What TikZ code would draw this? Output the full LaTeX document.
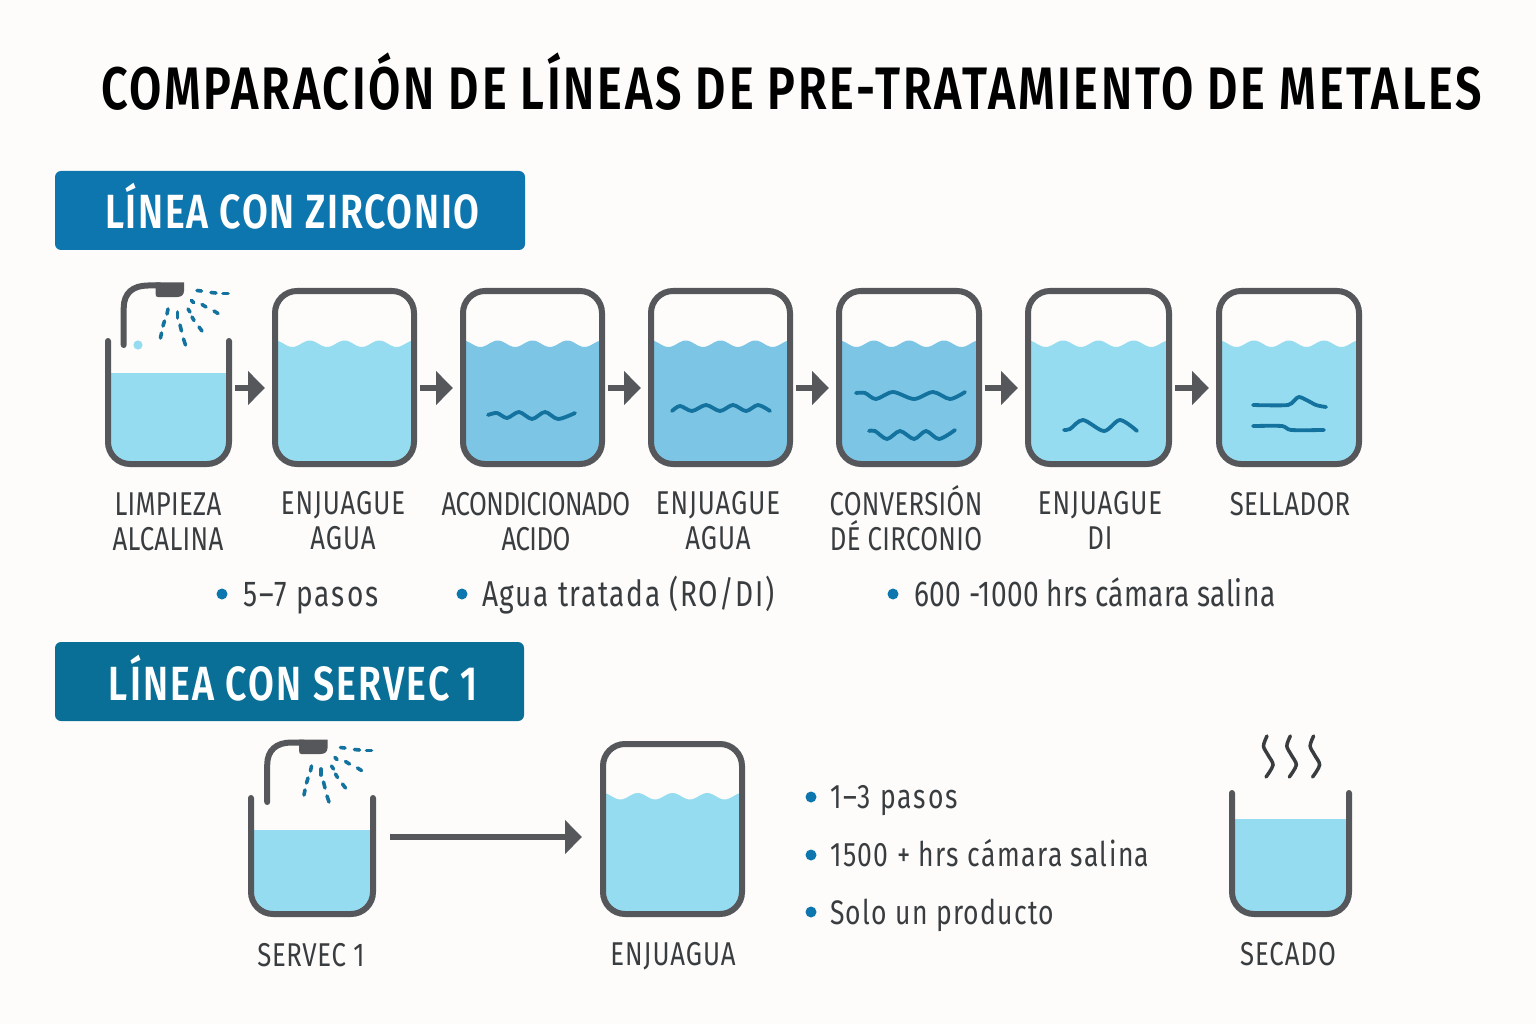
\documentclass[tikz,border=0pt]{standalone}
\usepackage{fontspec}
\setmainfont[FakeStretch=0.78,BoldFont={Fira Sans SemiBold}]{Fira Sans}
\usetikzlibrary{positioning}
\usetikzlibrary{arrows.meta}
\definecolor{paper}{HTML}{FDFCFB}
\definecolor{steel}{HTML}{55575A}
\definecolor{lightwater}{HTML}{96DCF0}
\definecolor{midwater}{HTML}{7CC5E5}
\definecolor{deepblue}{HTML}{14729E}
\definecolor{bannerA}{HTML}{0E76AE}
\definecolor{bannerB}{HTML}{0A6F96}
\definecolor{inktext}{HTML}{3A3D40}
\tikzset{tankwall/.style={draw=steel,line width=6pt,rounded corners=22pt,inner sep=0pt}}
\tikzset{opentank/.style={inner sep=0pt,outer sep=0pt}}
\tikzset{openwall/.style={draw=steel,line width=6pt,line cap=round,rounded corners=22pt}}
\tikzset{flow/.style={draw=steel,line width=6pt,-{Triangle[length=17pt,width=33pt]},shorten <=2.5pt,shorten >=7pt}}
\tikzset{squig/.style={draw=deepblue,line width=3.8pt,line cap=round,smooth}}
\tikzset{drop/.style={draw=deepblue,line width=3.6pt,line cap=round}}
\tikzset{banner/.style={rounded corners=6pt,inner sep=0pt,text height=37pt,text depth=0pt,text=white,font=\fontsize{48}{52}\selectfont\bfseries\addfontfeatures{LetterSpace=#1}}}
\tikzset{steplabel/.style={anchor=south,align=center,inner sep=0pt,text=inktext,font=\fontsize{33}{35}\selectfont\addfontfeatures{LetterSpace=1}}}
\tikzset{widelabel/.style={steplabel,font=\fontsize{33}{35}\selectfont\addfontfeatures{LetterSpace=3}}}
\tikzset{bullet/.style={circle,fill=bannerA,inner sep=0pt,minimum size=11pt}}
\tikzset{item/.style={anchor=base west,inner sep=0pt,text=inktext,font=\fontsize{36}{40}\selectfont\addfontfeatures{LetterSpace=#1}}}
\tikzset{smallitem/.style={anchor=base west,inner sep=0pt,text=inktext,font=\fontsize{34}{38}\selectfont\addfontfeatures{LetterSpace=#1}}}
% water surface plus walls, closed tank: left right top bottom waterline colour name
\newcommand{\closedtank}[7]{
    \fill[#6] plot[domain=#1+3:#2-3,samples=80] (\x,{#5+3.25-3.25*cos(1440/(#2-#1-6)*(\x-#1-3))})
        [rounded corners=20pt] -- (#2-3,#4-3) -- (#1+3,#4-3) -- (#1+3,#5) [sharp corners] -- cycle;
    \node[tankwall,minimum width=#2-#1-6,minimum height=#4-#3-6] (#7) at ({(#1+#2)/2},{(#3+#4)/2}) {};
}
% open tank: left right top bottom waterline name
\newcommand{\bucket}[6]{
    \fill[lightwater,rounded corners=20pt] (#1+3,#5) [sharp corners] -- (#2-3,#5) [rounded corners=20pt] -- (#2-3,#4-3) -- (#1+3,#4-3) [sharp corners] -- cycle;
    \node[opentank,minimum width=#2-#1,minimum height=#4-#3] (#6) at ({(#1+#2)/2},{(#3+#4)/2}) {};
    \draw[openwall] (#1+3,#3+3) -- (#1+3,#4-3) -- (#2-3,#4-3) -- (#2-3,#3+3);
}
% spray head, drawn in the position of the first tank and moved by dx dy
\newcommand{\sprayhead}[2]{
    \begin{scope}[shift={(#1,#2)}]
        \draw[draw=steel,line width=6pt,line cap=round] (123.7,345) -- (123.7,308) .. controls (123.7,293) and (133,285.5) .. (148,285.5) -- (160,285.5);
        \fill[steel] (155.7,282.5) -- (184,282.5) -- (184,291) .. controls (184,295) and (181,297) .. (177,297) -- (158,297) .. controls (156,297) and (155.7,296) .. (155.7,294) -- cycle;
        \draw[drop] (197,290.5) -- (201.5,291);
        \draw[drop] (211,292.5) -- (216,293);
        \draw[drop] (223,293.5) -- (228,293.5);
        \draw[drop] (191.5,300.5) -- (193.5,302.5);
        \draw[drop] (202,304.5) -- (206,307);
        \draw[drop] (214,311) -- (218,313.5);
        \draw[drop] (188,309) -- (190,312);
        \draw[drop] (192,317) -- (194,320.5);
        \draw[drop] (199,327) -- (202,331);
        \draw[drop] (168,309) -- (167,314);
        \draw[drop] (164.5,321) -- (163,326);
        \draw[drop] (161.5,333) -- (160.5,338);
        \draw[drop] (177.5,312) -- (177.5,318);
        \draw[drop] (180,325) -- (181.5,331);
        \draw[drop] (183.5,339) -- (185.5,345);
    \end{scope}
}
\begin{document}
\begin{tikzpicture}[x=1pt,y=-1pt]
    \fill[paper] (0,0) rectangle (1536,1024);
    \useasboundingbox (0,0) rectangle (1536,1024);
    \node[anchor=base west,inner sep=0pt,text=black,font=\fontsize{60}{64}\selectfont\bfseries\addfontfeatures{LetterSpace=4.5}] (title) at (101,110) {COMPARACIÓN DE LÍNEAS DE PRE-TRATAMIENTO DE METALES};
    \node[banner=3.6,fill=bannerA,minimum width=470pt,minimum height=79pt] (zirconio) at (290,210.5) {\hspace*{5pt}LÍNEA CON ZIRCONIO};
    \node[banner=4.6,fill=bannerB,minimum width=469pt,minimum height=79pt] (servec) at (289.5,681.5) {\hspace*{8pt}LÍNEA CON SERVEC 1};

    % first line
    \coordinate (rowa) at (0,388);
    \bucket{105}{232}{338}{467}{373}{t1}
    \sprayhead{0}{0}
    \fill[lightwater] (138,345) circle (4.6pt);
    \closedtank{272}{417}{288}{467}{340.5}{lightwater}{t2}
    \closedtank{460}{605}{288}{467}{340.5}{midwater}{t3}
    \closedtank{648}{793}{288}{467}{340.5}{midwater}{t4}
    \closedtank{836}{982}{288}{467}{340.5}{midwater}{t5}
    \closedtank{1025}{1172}{288}{467}{340.5}{lightwater}{t6}
    \closedtank{1216}{1362}{288}{467}{340.5}{lightwater}{t7}
    \foreach \a/\b in {t1/t2,t2/t3,t3/t4,t4/t5,t5/t6,t6/t7}
        \draw[flow] (\a.east |- rowa) -- (\b.west |- rowa);
    \draw[squig] plot[smooth] coordinates {(488,415) (497,413) (507,418) (519,412) (532,419) (545,412) (558,419) (575,413)};
    \draw[squig] plot[smooth] coordinates {(672,411) (680,406) (692,411) (706,405) (720,411) (733,405) (746,411) (758,405) (770,411)};
    \draw[squig] plot[smooth] coordinates {(856,393) (865,393) (876,399) (893,392) (914,399) (933,392) (950,399) (965,392)};
    \draw[squig] plot[smooth] coordinates {(869,431) (875,431) (887,439) (900,431) (914,439) (926,431) (939,439) (955,430)};
    \draw[squig] plot[smooth] coordinates {(1064,430) (1070,429) (1083,420) (1104,431) (1120,420) (1137,431)};
    \draw[squig] plot[smooth,tension=.4] coordinates {(1253,405) (1288,405) (1299,397) (1316,405) (1326,407)};
    \draw[squig] plot[smooth,tension=.4] coordinates {(1253,426) (1282,426) (1291,430) (1324,430)};
    \node[steplabel] (l1) at (168,551) {LIMPIEZA\\ALCALINA};
    \node[widelabel] (l2) at (343,550) {ENJUAGUE\\AGUA};
    \node[steplabel,font=\fontsize{33}{35}\selectfont\addfontfeatures{LetterSpace=-1.5}] (l3) at (536,551) {ACONDICIONADO\\ACIDO};
    \node[widelabel] (l4) at (718,550) {ENJUAGUE\\AGUA};
    \node[steplabel] (l5) at (906,551) {CONVERSIÓN\\DÉ CIRCONIO};
    \node[widelabel] (l6) at (1100,550) {ENJUAGUE\\DI};
    \node[steplabel] (l7) at (1290,516) {SELLADOR};
    \node[bullet] (b1) at (222,594) {};
    \node[item=5.8] (i1) at (243,606) {5–7 pasos};
    \node[bullet] (b2) at (462,594) {};
    \node[item=4.5] (i2) at (482,606) {Agua tratada (RO/DI)};
    \node[bullet] (b3) at (893,594) {};
    \node[item=1] (i3) at (914,606) {600 -1000 hrs cámara salina};

    % second line
    \coordinate (rowb) at (0,837);
    \bucket{248}{376}{795}{917}{830}{s1}
    \sprayhead{143.5}{457}
    \closedtank{600}{745}{741}{917}{793}{lightwater}{s2}
    \draw[flow,shorten <=14pt,shorten >=18pt] (s1.east |- rowb) -- (s2.west |- rowb);
    \bucket{1229}{1352}{790}{917}{819}{s3}
    \foreach \d in {0,23.3,46.6}
        \draw[draw=inktext,line width=3.5pt,line cap=round] plot[smooth] coordinates {({1267+\d},736) ({1263.5+\d},746) ({1268+\d},755) ({1273+\d},765) ({1266+\d},777)};
    \node[steplabel,anchor=base,font=\fontsize{33}{35}\selectfont\addfontfeatures{LetterSpace=2}] (l8) at (311,966) {SERVEC 1};
    \node[widelabel,anchor=base] (l9) at (673,965) {ENJUAGUA};
    \node[widelabel,anchor=base] (l10) at (1288,965) {SECADO};
    \node[bullet] (b4) at (811,797) {};
    \node[smallitem=6] (i4) at (830,808) {1–3 pasos};
    \node[bullet] (b5) at (811,855) {};
    \node[smallitem=4.1] (i5) at (830,866) {1500 + hrs cámara salina};
    \node[bullet] (b6) at (811,912) {};
    \node[smallitem=3.8] (i6) at (830,924) {Solo un producto};
\end{tikzpicture}
\end{document}
